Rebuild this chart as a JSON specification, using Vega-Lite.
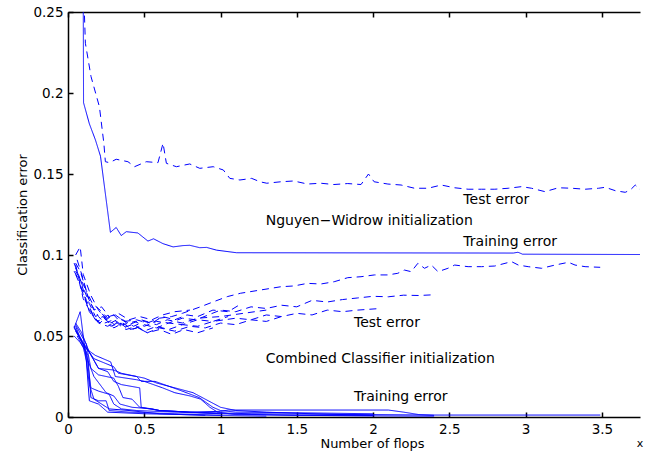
{
"$schema": "https://vega.github.io/schema/vega-lite/v6.json",
"width": 572, "height": 405,
"autosize": {"type": "none"},
"padding": {"left": 68, "top": 12, "right": 7, "bottom": 37},
"background": "white",
"config": {
  "view": {"stroke": null},
  "font": "DejaVu Sans",
  "axis": {"grid": false, "labelFlush": false, "domain": true, "domainColor": "#000000", "domainWidth": 1.5, "ticks": true, "tickColor": "#000000", "tickWidth": 1.5, "tickSize": -5, "labelColor": "#000", "labelFont": "DejaVu Sans", "labelFontSize": 13.5, "titleFont": "DejaVu Sans", "titleFontSize": 13, "titleFontWeight": "normal", "titleColor": "#000"}
},
"resolve": {"axis": {"x": "independent"}},
"layer": [
{
 "data": {"values": [
  {"s":"NWtr","k":"train","x":0.098,"y":0.32},{"s":"NWtr","k":"train","x":0.102,"y":0.194},{"s":"NWtr","k":"train","x":0.14,"y":0.181},{"s":"NWtr","k":"train","x":0.18,"y":0.171},{"s":"NWtr","k":"train","x":0.213,"y":0.161},{"s":"NWtr","k":"train","x":0.278,"y":0.114},{"s":"NWtr","k":"train","x":0.316,"y":0.117},{"s":"NWtr","k":"train","x":0.349,"y":0.112},{"s":"NWtr","k":"train","x":0.382,"y":0.1144},{"s":"NWtr","k":"train","x":0.458,"y":0.1136},{"s":"NWtr","k":"train","x":0.524,"y":0.1086},{"s":"NWtr","k":"train","x":0.561,"y":0.110},{"s":"NWtr","k":"train","x":0.623,"y":0.107},{"s":"NWtr","k":"train","x":0.689,"y":0.105},{"s":"NWtr","k":"train","x":0.754,"y":0.1058},{"s":"NWtr","k":"train","x":0.798,"y":0.106},{"s":"NWtr","k":"train","x":0.864,"y":0.1045},{"s":"NWtr","k":"train","x":0.908,"y":0.1047},{"s":"NWtr","k":"train","x":0.974,"y":0.103},{"s":"NWtr","k":"train","x":1.105,"y":0.1014},{"s":"NWtr","k":"train","x":2.92,"y":0.1012},{"s":"NWtr","k":"train","x":2.95,"y":0.1017},{"s":"NWtr","k":"train","x":2.98,"y":0.1005},{"s":"NWtr","k":"train","x":3.75,"y":0.1003},

  {"s":"NWte","k":"test","x":0.1,"y":0.27},{"s":"NWte","k":"test","x":0.114,"y":0.2307},{"s":"NWte","k":"test","x":0.151,"y":0.2101},{"s":"NWte","k":"test","x":0.206,"y":0.1915},{"s":"NWte","k":"test","x":0.235,"y":0.169},{"s":"NWte","k":"test","x":0.245,"y":0.1576},{"s":"NWte","k":"test","x":0.272,"y":0.157},{"s":"NWte","k":"test","x":0.316,"y":0.1591},{"s":"NWte","k":"test","x":0.393,"y":0.1576},{"s":"NWte","k":"test","x":0.436,"y":0.1545},{"s":"NWte","k":"test","x":0.513,"y":0.1576},{"s":"NWte","k":"test","x":0.59,"y":0.157},{"s":"NWte","k":"test","x":0.623,"y":0.169},{"s":"NWte","k":"test","x":0.645,"y":0.1566},{"s":"NWte","k":"test","x":0.711,"y":0.1545},{"s":"NWte","k":"test","x":0.798,"y":0.1562},{"s":"NWte","k":"test","x":0.864,"y":0.1535},{"s":"NWte","k":"test","x":0.952,"y":0.1545},{"s":"NWte","k":"test","x":1.018,"y":0.1525},{"s":"NWte","k":"test","x":1.061,"y":0.1473},{"s":"NWte","k":"test","x":1.127,"y":0.1463},{"s":"NWte","k":"test","x":1.204,"y":0.1473},{"s":"NWte","k":"test","x":1.259,"y":0.1452},{"s":"NWte","k":"test","x":1.303,"y":0.1443},{"s":"NWte","k":"test","x":1.395,"y":0.1452},{"s":"NWte","k":"test","x":1.48,"y":0.1457},{"s":"NWte","k":"test","x":1.57,"y":0.1438},{"s":"NWte","k":"test","x":1.658,"y":0.1443},{"s":"NWte","k":"test","x":1.743,"y":0.1435},{"s":"NWte","k":"test","x":1.834,"y":0.1441},{"s":"NWte","k":"test","x":1.921,"y":0.1435},{"s":"NWte","k":"test","x":1.97,"y":0.15},{"s":"NWte","k":"test","x":2.007,"y":0.1452},{"s":"NWte","k":"test","x":2.097,"y":0.1438},{"s":"NWte","k":"test","x":2.184,"y":0.1432},{"s":"NWte","k":"test","x":2.272,"y":0.1412},{"s":"NWte","k":"test","x":2.36,"y":0.1412},{"s":"NWte","k":"test","x":2.447,"y":0.1432},{"s":"NWte","k":"test","x":2.535,"y":0.1415},{"s":"NWte","k":"test","x":2.623,"y":0.1406},{"s":"NWte","k":"test","x":2.711,"y":0.1406},{"s":"NWte","k":"test","x":2.798,"y":0.1406},{"s":"NWte","k":"test","x":2.886,"y":0.1412},{"s":"NWte","k":"test","x":2.974,"y":0.1422},{"s":"NWte","k":"test","x":3.039,"y":0.1412},{"s":"NWte","k":"test","x":3.127,"y":0.1391},{"s":"NWte","k":"test","x":3.215,"y":0.1415},{"s":"NWte","k":"test","x":3.303,"y":0.1412},{"s":"NWte","k":"test","x":3.39,"y":0.1406},{"s":"NWte","k":"test","x":3.478,"y":0.1412},{"s":"NWte","k":"test","x":3.522,"y":0.1418},{"s":"NWte","k":"test","x":3.588,"y":0.1397},{"s":"NWte","k":"test","x":3.653,"y":0.1387},{"s":"NWte","k":"test","x":3.686,"y":0.1401},{"s":"NWte","k":"test","x":3.719,"y":0.1432},{"s":"NWte","k":"test","x":3.763,"y":0.1391},

  {"s":"T1","k":"train","x":0.04,"y":0.056},{"s":"T1","k":"train","x":0.08,"y":0.048},{"s":"T1","k":"train","x":0.12,"y":0.042},{"s":"T1","k":"train","x":0.18,"y":0.038},{"s":"T1","k":"train","x":0.28,"y":0.034},{"s":"T1","k":"train","x":0.31,"y":0.025},{"s":"T1","k":"train","x":0.45,"y":0.023},{"s":"T1","k":"train","x":0.5,"y":0.022},{"s":"T1","k":"train","x":0.62,"y":0.018},{"s":"T1","k":"train","x":0.7,"y":0.015},{"s":"T1","k":"train","x":0.8,"y":0.013},{"s":"T1","k":"train","x":0.87,"y":0.011},{"s":"T1","k":"train","x":0.93,"y":0.006},{"s":"T1","k":"train","x":0.98,"y":0.003},{"s":"T1","k":"train","x":1.1,"y":0.0015},{"s":"T1","k":"train","x":1.5,"y":0.001},{"s":"T1","k":"train","x":2.4,"y":0.0005},
  {"s":"T2","k":"train","x":0.04,"y":0.055},{"s":"T2","k":"train","x":0.1,"y":0.045},{"s":"T2","k":"train","x":0.17,"y":0.036},{"s":"T2","k":"train","x":0.3,"y":0.031},{"s":"T2","k":"train","x":0.33,"y":0.027},{"s":"T2","k":"train","x":0.45,"y":0.025},{"s":"T2","k":"train","x":0.48,"y":0.022},{"s":"T2","k":"train","x":0.57,"y":0.022},{"s":"T2","k":"train","x":0.63,"y":0.02},{"s":"T2","k":"train","x":0.72,"y":0.017},{"s":"T2","k":"train","x":0.86,"y":0.012},{"s":"T2","k":"train","x":0.95,"y":0.006},{"s":"T2","k":"train","x":1.0,"y":0.004},{"s":"T2","k":"train","x":1.1,"y":0.003},{"s":"T2","k":"train","x":1.6,"y":0.0025},{"s":"T2","k":"train","x":2.0,"y":0.002},
  {"s":"T3","k":"train","x":0.05,"y":0.054},{"s":"T3","k":"train","x":0.1,"y":0.046},{"s":"T3","k":"train","x":0.14,"y":0.04},{"s":"T3","k":"train","x":0.2,"y":0.03},{"s":"T3","k":"train","x":0.26,"y":0.028},{"s":"T3","k":"train","x":0.3,"y":0.022},{"s":"T3","k":"train","x":0.35,"y":0.02},{"s":"T3","k":"train","x":0.47,"y":0.018},{"s":"T3","k":"train","x":0.48,"y":0.006},{"s":"T3","k":"train","x":0.55,"y":0.005},{"s":"T3","k":"train","x":0.6,"y":0.004},{"s":"T3","k":"train","x":0.8,"y":0.003},{"s":"T3","k":"train","x":1.0,"y":0.002},{"s":"T3","k":"train","x":1.5,"y":0.001},{"s":"T3","k":"train","x":2.0,"y":0.0008},
  {"s":"T4","k":"train","x":0.05,"y":0.057},{"s":"T4","k":"train","x":0.09,"y":0.05},{"s":"T4","k":"train","x":0.12,"y":0.045},{"s":"T4","k":"train","x":0.15,"y":0.03},{"s":"T4","k":"train","x":0.2,"y":0.026},{"s":"T4","k":"train","x":0.3,"y":0.024},{"s":"T4","k":"train","x":0.33,"y":0.019},{"s":"T4","k":"train","x":0.36,"y":0.012},{"s":"T4","k":"train","x":0.42,"y":0.011},{"s":"T4","k":"train","x":0.47,"y":0.006},{"s":"T4","k":"train","x":0.6,"y":0.004},{"s":"T4","k":"train","x":0.8,"y":0.003},{"s":"T4","k":"train","x":1.2,"y":0.002},{"s":"T4","k":"train","x":2.4,"y":0.0012},{"s":"T4","k":"train","x":3.49,"y":0.0012},
  {"s":"T5","k":"train","x":0.05,"y":0.053},{"s":"T5","k":"train","x":0.1,"y":0.045},{"s":"T5","k":"train","x":0.13,"y":0.038},{"s":"T5","k":"train","x":0.15,"y":0.012},{"s":"T5","k":"train","x":0.2,"y":0.01},{"s":"T5","k":"train","x":0.25,"y":0.01},{"s":"T5","k":"train","x":0.27,"y":0.004},{"s":"T5","k":"train","x":0.4,"y":0.003},{"s":"T5","k":"train","x":0.7,"y":0.002},{"s":"T5","k":"train","x":1.0,"y":0.001},{"s":"T5","k":"train","x":1.3,"y":0.0005},
  {"s":"T6","k":"train","x":0.04,"y":0.055},{"s":"T6","k":"train","x":0.08,"y":0.065},{"s":"T6","k":"train","x":0.1,"y":0.05},{"s":"T6","k":"train","x":0.14,"y":0.02},{"s":"T6","k":"train","x":0.17,"y":0.011},{"s":"T6","k":"train","x":0.27,"y":0.005},{"s":"T6","k":"train","x":0.4,"y":0.004},{"s":"T6","k":"train","x":0.6,"y":0.002},{"s":"T6","k":"train","x":0.9,"y":0.001},
  {"s":"T7","k":"train","x":0.05,"y":0.056},{"s":"T7","k":"train","x":0.1,"y":0.044},{"s":"T7","k":"train","x":0.13,"y":0.035},{"s":"T7","k":"train","x":0.17,"y":0.025},{"s":"T7","k":"train","x":0.25,"y":0.015},{"s":"T7","k":"train","x":0.3,"y":0.013},{"s":"T7","k":"train","x":0.34,"y":0.008},{"s":"T7","k":"train","x":0.42,"y":0.006},{"s":"T7","k":"train","x":0.55,"y":0.005},{"s":"T7","k":"train","x":0.6,"y":0.004},{"s":"T7","k":"train","x":0.8,"y":0.003},{"s":"T7","k":"train","x":1.0,"y":0.0035},{"s":"T7","k":"train","x":1.05,"y":0.0043},{"s":"T7","k":"train","x":2.1,"y":0.0043},{"s":"T7","k":"train","x":2.2,"y":0.003},{"s":"T7","k":"train","x":2.3,"y":0.0015},{"s":"T7","k":"train","x":2.4,"y":0.001},
  {"s":"T8","k":"train","x":0.04,"y":0.05},{"s":"T8","k":"train","x":0.08,"y":0.046},{"s":"T8","k":"train","x":0.12,"y":0.04},{"s":"T8","k":"train","x":0.15,"y":0.018},{"s":"T8","k":"train","x":0.2,"y":0.016},{"s":"T8","k":"train","x":0.27,"y":0.014},{"s":"T8","k":"train","x":0.3,"y":0.008},{"s":"T8","k":"train","x":0.35,"y":0.005},{"s":"T8","k":"train","x":0.45,"y":0.004},{"s":"T8","k":"train","x":0.7,"y":0.003},{"s":"T8","k":"train","x":1.0,"y":0.002},
  {"s":"T9","k":"train","x":0.05,"y":0.058},{"s":"T9","k":"train","x":0.09,"y":0.052},{"s":"T9","k":"train","x":0.14,"y":0.04},{"s":"T9","k":"train","x":0.2,"y":0.03},{"s":"T9","k":"train","x":0.3,"y":0.029},{"s":"T9","k":"train","x":0.35,"y":0.027},{"s":"T9","k":"train","x":0.5,"y":0.024},{"s":"T9","k":"train","x":0.58,"y":0.021},{"s":"T9","k":"train","x":0.7,"y":0.018},{"s":"T9","k":"train","x":0.82,"y":0.015},{"s":"T9","k":"train","x":0.92,"y":0.01},{"s":"T9","k":"train","x":1.0,"y":0.006},{"s":"T9","k":"train","x":1.1,"y":0.004},{"s":"T9","k":"train","x":1.3,"y":0.003},{"s":"T9","k":"train","x":1.6,"y":0.002},{"s":"T9","k":"train","x":2.0,"y":0.001},
  {"s":"T10","k":"train","x":0.06,"y":0.05},{"s":"T10","k":"train","x":0.1,"y":0.043},{"s":"T10","k":"train","x":0.12,"y":0.035},{"s":"T10","k":"train","x":0.14,"y":0.01},{"s":"T10","k":"train","x":0.2,"y":0.008},{"s":"T10","k":"train","x":0.26,"y":0.003},{"s":"T10","k":"train","x":0.5,"y":0.002},{"s":"T10","k":"train","x":1.0,"y":0.001},

  {"s":"C1","k":"test","x":0.05,"y":0.095},{"s":"C1","k":"test","x":0.08,"y":0.09},{"s":"C1","k":"test","x":0.12,"y":0.078},{"s":"C1","k":"test","x":0.16,"y":0.07},{"s":"C1","k":"test","x":0.21,"y":0.066},{"s":"C1","k":"test","x":0.26,"y":0.061},{"s":"C1","k":"test","x":0.31,"y":0.063},{"s":"C1","k":"test","x":0.37,"y":0.059},{"s":"C1","k":"test","x":0.45,"y":0.06},{"s":"C1","k":"test","x":0.52,"y":0.058},{"s":"C1","k":"test","x":0.6,"y":0.061},{"s":"C1","k":"test","x":0.68,"y":0.062},{"s":"C1","k":"test","x":0.75,"y":0.064},{"s":"C1","k":"test","x":0.868,"y":0.068},{"s":"C1","k":"test","x":0.95,"y":0.071},{"s":"C1","k":"test","x":1.044,"y":0.0743},{"s":"C1","k":"test","x":1.132,"y":0.0764},{"s":"C1","k":"test","x":1.263,"y":0.0784},{"s":"C1","k":"test","x":1.395,"y":0.0804},{"s":"C1","k":"test","x":1.482,"y":0.0809},{"s":"C1","k":"test","x":1.57,"y":0.0825},{"s":"C1","k":"test","x":1.658,"y":0.0821},{"s":"C1","k":"test","x":1.745,"y":0.0835},{"s":"C1","k":"test","x":1.834,"y":0.086},{"s":"C1","k":"test","x":1.921,"y":0.0866},{"s":"C1","k":"test","x":2.009,"y":0.0877},{"s":"C1","k":"test","x":2.097,"y":0.0877},{"s":"C1","k":"test","x":2.162,"y":0.0887},{"s":"C1","k":"test","x":2.206,"y":0.0907},{"s":"C1","k":"test","x":2.25,"y":0.0897},{"s":"C1","k":"test","x":2.294,"y":0.0949},{"s":"C1","k":"test","x":2.337,"y":0.0918},{"s":"C1","k":"test","x":2.382,"y":0.0938},{"s":"C1","k":"test","x":2.426,"y":0.0897},{"s":"C1","k":"test","x":2.491,"y":0.0918},{"s":"C1","k":"test","x":2.535,"y":0.0938},{"s":"C1","k":"test","x":2.623,"y":0.0928},{"s":"C1","k":"test","x":2.711,"y":0.0928},{"s":"C1","k":"test","x":2.798,"y":0.0932},{"s":"C1","k":"test","x":2.908,"y":0.0959},{"s":"C1","k":"test","x":2.952,"y":0.0938},{"s":"C1","k":"test","x":3.017,"y":0.0928},{"s":"C1","k":"test","x":3.105,"y":0.0918},{"s":"C1","k":"test","x":3.193,"y":0.0938},{"s":"C1","k":"test","x":3.281,"y":0.0955},{"s":"C1","k":"test","x":3.324,"y":0.0938},{"s":"C1","k":"test","x":3.39,"y":0.0928},{"s":"C1","k":"test","x":3.489,"y":0.0924},
  {"s":"C2","k":"test","x":0.05,"y":0.1},{"s":"C2","k":"test","x":0.08,"y":0.105},{"s":"C2","k":"test","x":0.1,"y":0.088},{"s":"C2","k":"test","x":0.15,"y":0.075},{"s":"C2","k":"test","x":0.2,"y":0.066},{"s":"C2","k":"test","x":0.25,"y":0.06},{"s":"C2","k":"test","x":0.3,"y":0.063},{"s":"C2","k":"test","x":0.36,"y":0.057},{"s":"C2","k":"test","x":0.44,"y":0.059},{"s":"C2","k":"test","x":0.5,"y":0.056},{"s":"C2","k":"test","x":0.58,"y":0.059},{"s":"C2","k":"test","x":0.66,"y":0.058},{"s":"C2","k":"test","x":0.75,"y":0.061},{"s":"C2","k":"test","x":0.84,"y":0.06},{"s":"C2","k":"test","x":0.92,"y":0.063},{"s":"C2","k":"test","x":1.0,"y":0.066},{"s":"C2","k":"test","x":1.1,"y":0.065},{"s":"C2","k":"test","x":1.2,"y":0.068},{"s":"C2","k":"test","x":1.3,"y":0.067},{"s":"C2","k":"test","x":1.4,"y":0.069},{"s":"C2","k":"test","x":1.5,"y":0.068},{"s":"C2","k":"test","x":1.6,"y":0.072},{"s":"C2","k":"test","x":1.7,"y":0.071},{"s":"C2","k":"test","x":1.8,"y":0.0725},{"s":"C2","k":"test","x":1.9,"y":0.0735},{"s":"C2","k":"test","x":2.0,"y":0.0745},{"s":"C2","k":"test","x":2.1,"y":0.0742},{"s":"C2","k":"test","x":2.2,"y":0.0752},{"s":"C2","k":"test","x":2.3,"y":0.075},{"s":"C2","k":"test","x":2.41,"y":0.0755},
  {"s":"C3","k":"test","x":0.05,"y":0.09},{"s":"C3","k":"test","x":0.1,"y":0.082},{"s":"C3","k":"test","x":0.15,"y":0.07},{"s":"C3","k":"test","x":0.2,"y":0.062},{"s":"C3","k":"test","x":0.24,"y":0.058},{"s":"C3","k":"test","x":0.3,"y":0.06},{"s":"C3","k":"test","x":0.36,"y":0.055},{"s":"C3","k":"test","x":0.42,"y":0.057},{"s":"C3","k":"test","x":0.5,"y":0.053},{"s":"C3","k":"test","x":0.58,"y":0.056},{"s":"C3","k":"test","x":0.66,"y":0.054},{"s":"C3","k":"test","x":0.75,"y":0.057},{"s":"C3","k":"test","x":0.85,"y":0.056},{"s":"C3","k":"test","x":0.95,"y":0.059},{"s":"C3","k":"test","x":1.1,"y":0.061},{"s":"C3","k":"test","x":1.2,"y":0.06},{"s":"C3","k":"test","x":1.3,"y":0.063},{"s":"C3","k":"test","x":1.4,"y":0.062},{"s":"C3","k":"test","x":1.5,"y":0.064},{"s":"C3","k":"test","x":1.6,"y":0.063},{"s":"C3","k":"test","x":1.7,"y":0.066},{"s":"C3","k":"test","x":1.8,"y":0.065},{"s":"C3","k":"test","x":1.9,"y":0.066},{"s":"C3","k":"test","x":2.05,"y":0.067},
  {"s":"C4","k":"test","x":0.04,"y":0.095},{"s":"C4","k":"test","x":0.08,"y":0.085},{"s":"C4","k":"test","x":0.12,"y":0.072},{"s":"C4","k":"test","x":0.16,"y":0.064},{"s":"C4","k":"test","x":0.2,"y":0.058},{"s":"C4","k":"test","x":0.26,"y":0.056},{"s":"C4","k":"test","x":0.32,"y":0.059},{"s":"C4","k":"test","x":0.38,"y":0.054},{"s":"C4","k":"test","x":0.45,"y":0.056},{"s":"C4","k":"test","x":0.52,"y":0.052},{"s":"C4","k":"test","x":0.6,"y":0.055},{"s":"C4","k":"test","x":0.7,"y":0.053},{"s":"C4","k":"test","x":0.8,"y":0.056},{"s":"C4","k":"test","x":0.9,"y":0.055},{"s":"C4","k":"test","x":1.0,"y":0.058},{"s":"C4","k":"test","x":1.1,"y":0.057},{"s":"C4","k":"test","x":1.2,"y":0.06},{"s":"C4","k":"test","x":1.3,"y":0.059},{"s":"C4","k":"test","x":1.4,"y":0.062},
  {"s":"C5","k":"test","x":0.05,"y":0.092},{"s":"C5","k":"test","x":0.1,"y":0.08},{"s":"C5","k":"test","x":0.14,"y":0.07},{"s":"C5","k":"test","x":0.18,"y":0.062},{"s":"C5","k":"test","x":0.22,"y":0.064},{"s":"C5","k":"test","x":0.28,"y":0.058},{"s":"C5","k":"test","x":0.34,"y":0.061},{"s":"C5","k":"test","x":0.4,"y":0.057},{"s":"C5","k":"test","x":0.48,"y":0.06},{"s":"C5","k":"test","x":0.55,"y":0.058},{"s":"C5","k":"test","x":0.62,"y":0.062},{"s":"C5","k":"test","x":0.7,"y":0.06},{"s":"C5","k":"test","x":0.78,"y":0.063},{"s":"C5","k":"test","x":0.85,"y":0.062},{"s":"C5","k":"test","x":0.95,"y":0.066},{"s":"C5","k":"test","x":1.05,"y":0.065},{"s":"C5","k":"test","x":1.12,"y":0.069},
  {"s":"C6","k":"test","x":0.04,"y":0.09},{"s":"C6","k":"test","x":0.07,"y":0.085},{"s":"C6","k":"test","x":0.1,"y":0.073},{"s":"C6","k":"test","x":0.14,"y":0.066},{"s":"C6","k":"test","x":0.18,"y":0.06},{"s":"C6","k":"test","x":0.23,"y":0.062},{"s":"C6","k":"test","x":0.28,"y":0.056},{"s":"C6","k":"test","x":0.34,"y":0.058},{"s":"C6","k":"test","x":0.4,"y":0.054},{"s":"C6","k":"test","x":0.46,"y":0.055},{"s":"C6","k":"test","x":0.52,"y":0.052},{"s":"C6","k":"test","x":0.6,"y":0.054},{"s":"C6","k":"test","x":0.68,"y":0.051},{"s":"C6","k":"test","x":0.76,"y":0.054},{"s":"C6","k":"test","x":0.85,"y":0.052},{"s":"C6","k":"test","x":0.95,"y":0.055},
  {"s":"C7","k":"test","x":0.05,"y":0.094},{"s":"C7","k":"test","x":0.09,"y":0.078},{"s":"C7","k":"test","x":0.13,"y":0.068},{"s":"C7","k":"test","x":0.17,"y":0.062},{"s":"C7","k":"test","x":0.21,"y":0.058},{"s":"C7","k":"test","x":0.26,"y":0.063},{"s":"C7","k":"test","x":0.3,"y":0.057},{"s":"C7","k":"test","x":0.36,"y":0.06},{"s":"C7","k":"test","x":0.43,"y":0.056},{"s":"C7","k":"test","x":0.5,"y":0.059},{"s":"C7","k":"test","x":0.58,"y":0.057},{"s":"C7","k":"test","x":0.65,"y":0.06},{"s":"C7","k":"test","x":0.75,"y":0.058},{"s":"C7","k":"test","x":0.85,"y":0.061},{"s":"C7","k":"test","x":1.0,"y":0.062},{"s":"C7","k":"test","x":1.15,"y":0.064},{"s":"C7","k":"test","x":1.3,"y":0.066},
  {"s":"C8","k":"test","x":0.05,"y":0.088},{"s":"C8","k":"test","x":0.1,"y":0.077},{"s":"C8","k":"test","x":0.14,"y":0.065},{"s":"C8","k":"test","x":0.19,"y":0.059},{"s":"C8","k":"test","x":0.24,"y":0.061},{"s":"C8","k":"test","x":0.3,"y":0.055},{"s":"C8","k":"test","x":0.36,"y":0.058},{"s":"C8","k":"test","x":0.42,"y":0.054},{"s":"C8","k":"test","x":0.5,"y":0.057},{"s":"C8","k":"test","x":0.58,"y":0.055},{"s":"C8","k":"test","x":0.66,"y":0.058},{"s":"C8","k":"test","x":0.75,"y":0.057},{"s":"C8","k":"test","x":0.85,"y":0.06},{"s":"C8","k":"test","x":0.95,"y":0.059},{"s":"C8","k":"test","x":1.05,"y":0.062},
  {"s":"C9","k":"test","x":0.06,"y":0.097},{"s":"C9","k":"test","x":0.1,"y":0.085},{"s":"C9","k":"test","x":0.13,"y":0.074},{"s":"C9","k":"test","x":0.17,"y":0.066},{"s":"C9","k":"test","x":0.22,"y":0.068},{"s":"C9","k":"test","x":0.27,"y":0.062},{"s":"C9","k":"test","x":0.33,"y":0.064},{"s":"C9","k":"test","x":0.4,"y":0.06},{"s":"C9","k":"test","x":0.47,"y":0.062},{"s":"C9","k":"test","x":0.55,"y":0.06},{"s":"C9","k":"test","x":0.62,"y":0.063},{"s":"C9","k":"test","x":0.7,"y":0.065},{"s":"C9","k":"test","x":0.8,"y":0.066}
 ]},
 "mark": {"type": "line", "clip": true, "color": "#0000ff", "strokeWidth": 1},
 "encoding": {
  "x": {"field": "x", "type": "quantitative", "scale": {"domain": [0, 3.75], "nice": false, "zero": false},
        "axis": {"orient": "bottom", "values": [0, 0.5, 1, 1.5, 2, 2.5, 3, 3.5], "format": "~g", "labelPadding": 10, "title": "Number of flops", "titlePadding": 2, "titleX": 304}},
  "y": {"field": "y", "type": "quantitative", "scale": {"domain": [0, 0.25], "nice": false},
        "axis": {"values": [0, 0.05, 0.1, 0.15, 0.2, 0.25], "format": "~g", "labelPadding": 10, "title": "Classification error", "titlePadding": 3}},
  "detail": {"field": "s", "type": "nominal"},
  "strokeDash": {"field": "k", "type": "nominal", "scale": {"domain": ["train", "test"], "range": [[1, 0], [7, 5]]}, "legend": null}
 }
},
{
 "data": {"values": [
  {"t": "Test error", "x": 2.592, "y": 0.134},
  {"t": "Nguyen\u2212Widrow initialization", "x": 1.296, "y": 0.121},
  {"t": "Training error", "x": 2.592, "y": 0.108},
  {"t": "Test error", "x": 1.875, "y": 0.058},
  {"t": "Combined Classifier initialization", "x": 1.296, "y": 0.0358},
  {"t": "Training error", "x": 1.875, "y": 0.0123}
 ]},
 "mark": {"type": "text", "align": "left", "baseline": "middle", "fontSize": 14, "color": "#000", "font": "DejaVu Sans"},
 "encoding": {
  "x": {"field": "x", "type": "quantitative", "axis": {"orient": "top", "values": [0, 0.5, 1, 1.5, 2, 2.5, 3, 3.5], "labels": false, "title": null}},
  "y": {"field": "y", "type": "quantitative",
        "axis": {"values": [0, 0.05, 0.1, 0.15, 0.2, 0.25], "format": "~g", "labelPadding": 10, "title": "Classification error", "titlePadding": 3}},
  "text": {"field": "t"}
 }
},
{
 "data": {"values": [{"t": "x", "x": 3.75, "y": -0.0167}]},
 "mark": {"type": "text", "align": "center", "baseline": "middle", "fontSize": 11, "color": "#000", "font": "DejaVu Sans"},
 "encoding": {
  "x": {"field": "x", "type": "quantitative", "axis": null},
  "y": {"field": "y", "type": "quantitative",
        "axis": {"values": [0, 0.05, 0.1, 0.15, 0.2, 0.25], "format": "~g", "labelPadding": 10, "title": "Classification error", "titlePadding": 3}},
  "text": {"field": "t"}
 }
}
]
}
